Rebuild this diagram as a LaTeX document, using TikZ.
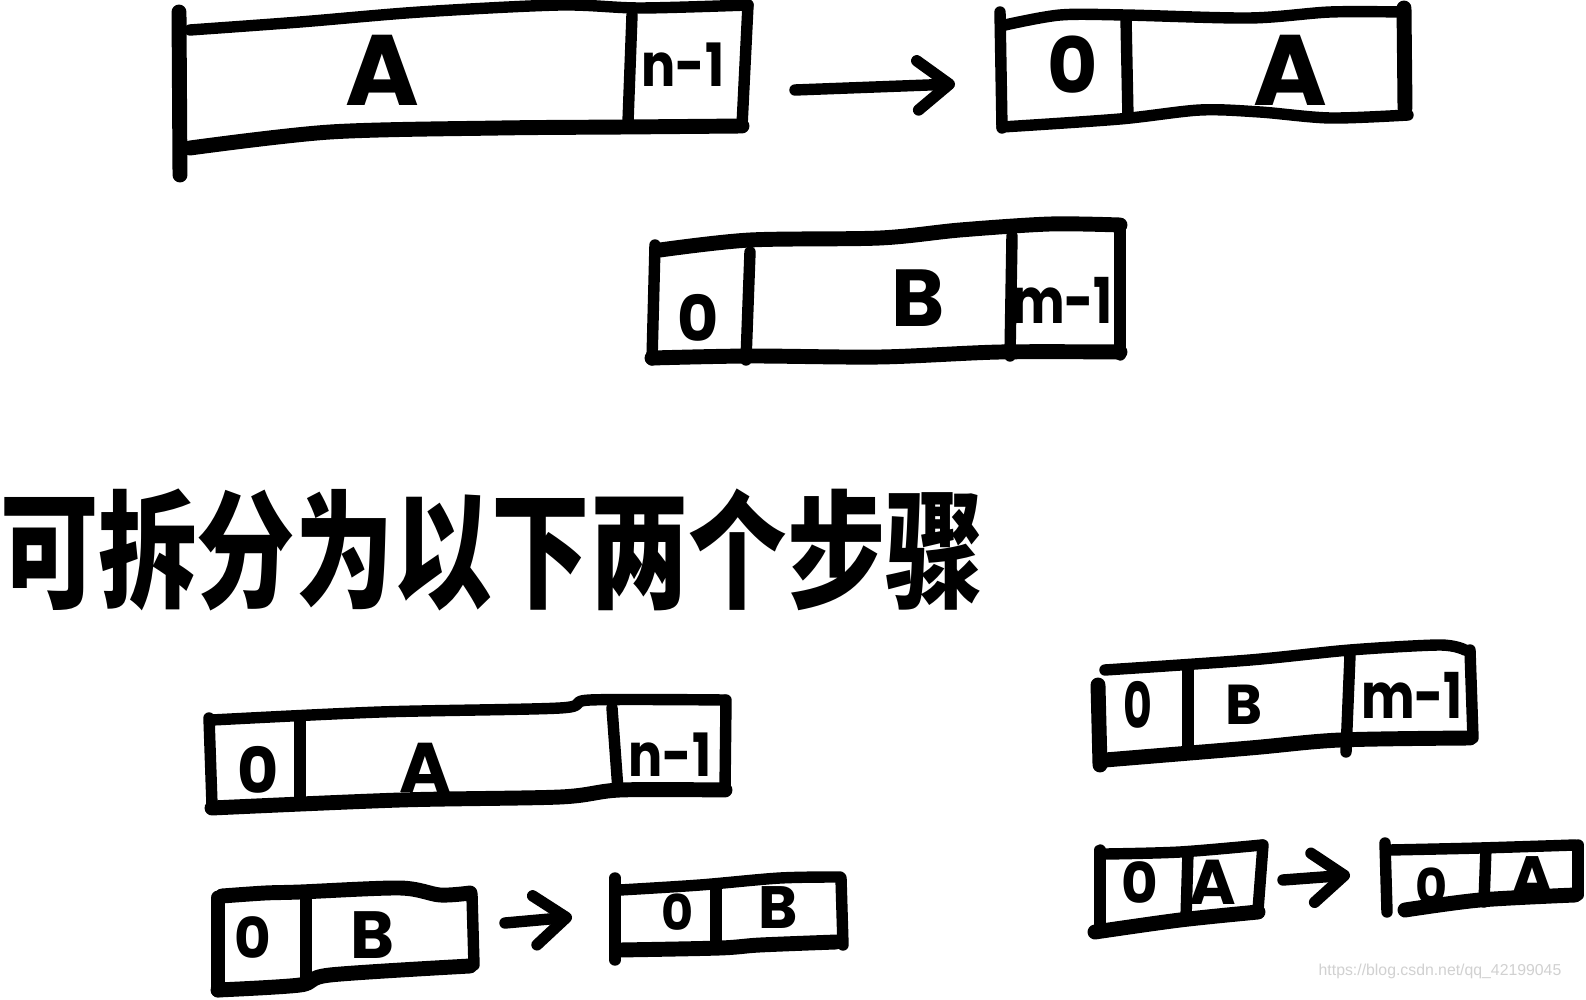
\documentclass[tikz,border=0pt]{standalone}
\usepackage{fontspec}
\newfontfamily\hand{Poppins}
\newfontfamily\cjk{Noto Sans CJK SC}
\newfontfamily\wm{Liberation Sans}
\usetikzlibrary{arrows.meta}
\tikzset{
  stroke/.style={line width=6.5pt, line cap=round, line join=round},
  heavy/.style={stroke, line width=8.5pt},
  lab/.style={font={\hand\bfseries\fontsize{#1}{#1}\selectfont}, inner sep=0pt},
  harrow/.style={stroke, -{Straight Barb[length=18pt,width=28pt,line cap=round,line join=round]}},
}
\begin{document}
\begin{tikzpicture}[x=0.02cm,y=-0.02cm]
\useasboundingbox[fill=white] (0,0) rectangle (1586,1000);

% ---------- Box 1: A | n-1
\draw[heavy] (179,12) -- (180,175);
\draw[stroke] plot[smooth] coordinates {(190,30) (300,22) (420,12) (560,5) (640,8) (748,5)};
\draw[stroke] (748,5) -- (742,126);
\draw[heavy] plot[smooth] coordinates {(190,148) (330,132) (500,128) (625,127) (742,126)};
\draw[stroke] (632,15) -- (628,122);
\node[lab=57pt] (b1A) at (382,70) {A};
\node[lab=34pt, xscale=0.85] (b1n) at (683,65) {n-1};

% arrow 1
\coordinate (a1s) at (795,90);
\coordinate (a1e) at (955,84);
\draw[harrow] (a1s) -- (a1e);

% ---------- Box 2: 0 | A
\draw[stroke] (1000,12) -- (1002,128);
\draw[stroke] plot[smooth] coordinates {(1005,25) (1060,15) (1125,15) (1250,18) (1330,12) (1402,12)};
\draw[heavy] (1404,8) -- (1405,108);
\draw[stroke] plot[smooth] coordinates {(1002,127) (1120,119) (1200,110) (1260,112) (1330,118) (1408,115)};
\draw[stroke] (1126,18) -- (1128,118);
\node[lab=44pt] (b2z) at (1073,65) {0};
\node[lab=57pt] (b2A) at (1290,70) {A};

% ---------- Box 3: 0 | B | m-1
\draw[stroke] (655,245) -- (652,360);
\draw[heavy] plot[smooth] coordinates {(660,250) (750,240) (880,238) (960,230) (1050,224) (1120,225)};
\draw[stroke] (1120,225) -- (1120,355);
\draw[heavy] plot[smooth] coordinates {(652,358) (750,356) (880,357) (1000,352) (1120,352)};
\draw[stroke] (750,252) -- (746,360);
\draw[stroke] (1012,236) -- (1010,356);
\node[lab=36pt] (b3z) at (698,318) {0};
\node[lab=46pt] (b3B) at (918,298) {B};
\node[lab=36pt, xscale=0.8] (b3m) at (1062,300) {m-1};

% ---------- Chinese title
\node[inner sep=0pt, yscale=1.3, font={\cjk\bfseries\fontsize{56}{56}\selectfont}] (title) at (492,550) {可拆分为以下两个步骤};

% ---------- Box 4: 0 | A | n-1
\draw[stroke] (209,718) -- (212,805);
\draw[stroke] plot[smooth] coordinates {(212,720) (380,712) (560,708) (590,700) (724,700)};
\draw[stroke] (726,700) -- (725,790);
\draw[heavy] plot[smooth] coordinates {(212,808) (400,800) (560,797) (620,790) (725,790)};
\draw[stroke] (300,722) -- (300,805);
\draw[stroke] (612,708) -- (618,790);
\node[lab=36pt] (b4z) at (258,770) {0};
\node[lab=40pt] (b4A) at (425,768) {A};
\node[lab=34pt, xscale=0.85] (b4n) at (670,755) {n-1};

% ---------- Box 5: 0 | B
\draw[heavy] (218,898) -- (218,990);
\draw[heavy] plot[smooth] coordinates {(222,896) (265,893) (300,892) (400,888) (440,895) (470,893)};
\draw[stroke] (472,895) -- (474,965);
\draw[heavy] plot[smooth] coordinates {(218,990) (300,985) (330,975) (470,966)};
\draw[stroke] (306,893) -- (306,985);
\node[lab=32pt] (b5z) at (253,938) {0};
\node[lab=38pt] (b5B) at (372,935) {B};

% arrow 2
\coordinate (a2s) at (505,923);
\coordinate (a2e) at (572,917);
\draw[harrow] (a2s) -- (a2e);

% ---------- Box 6: 0 | B
\draw[stroke] (615,878) -- (615,960);
\draw[stroke] plot[smooth] coordinates {(620,890) (700,885) (780,878) (840,877)};
\draw[stroke] (841,878) -- (843,945);
\draw[heavy] plot[smooth] coordinates {(620,950) (720,948) (760,945) (836,942)};
\draw[stroke] (716,890) -- (716,948);
\node[lab=28pt] (b6z) at (678,912) {0};
\node[lab=34pt] (b6B) at (778,908) {B};

% ---------- Box 7: 0 | B | m-1
\draw[heavy] (1098,685) -- (1100,765);
\draw[stroke] plot[smooth] coordinates {(1105,670) (1250,660) (1350,650) (1440,645) (1465,650)};
\draw[stroke] (1470,650) -- (1473,738);
\draw[heavy] plot[smooth] coordinates {(1105,760) (1250,748) (1340,740) (1470,738)};
\draw[stroke] (1188,665) -- (1188,745);
\draw[stroke] (1350,655) -- (1346,752);
\node[lab=36pt, xscale=0.7] (b7z) at (1138,705) {0};
\node[lab=32pt] (b7B) at (1244,705) {B};
\node[lab=36pt, xscale=0.8] (b7m) at (1412,695) {m-1};

% ---------- Box 8: 0 | A
\draw[stroke] (1100,850) -- (1100,930);
\draw[stroke] plot[smooth] coordinates {(1106,854) (1180,852) (1262,845)};
\draw[stroke] (1263,845) -- (1258,910);
\draw[heavy] plot[smooth] coordinates {(1095,932) (1180,920) (1258,912)};
\draw[stroke] (1188,852) -- (1186,918);
\node[lab=32pt] (b8z) at (1140,883) {0};
\node[lab=36pt] (b8A) at (1213,882) {A};

% arrow 3
\coordinate (a3s) at (1283,880);
\coordinate (a3e) at (1350,875);
\draw[harrow] (a3s) -- (a3e);

% ---------- Box 9: 0 | A
\draw[stroke] (1385,843) -- (1387,912);
\draw[stroke] plot[smooth] coordinates {(1390,850) (1480,848) (1575,845)};
\draw[stroke] (1578,845) -- (1578,895);
\draw[heavy] plot[smooth] coordinates {(1405,910) (1480,900) (1575,895)};
\draw[stroke] (1486,848) -- (1484,902);
\node[lab=28pt] (b9z) at (1432,886) {0};
\node[lab=34pt] (b9A) at (1532,878) {A};

% ---------- watermark
\node[inner sep=0pt, text=black!18, font={\wm\fontsize{9}{9}\selectfont}] (wm) at (1440,971) {https://blog.csdn.net/qq\_42199045};
\end{tikzpicture}
\end{document}
